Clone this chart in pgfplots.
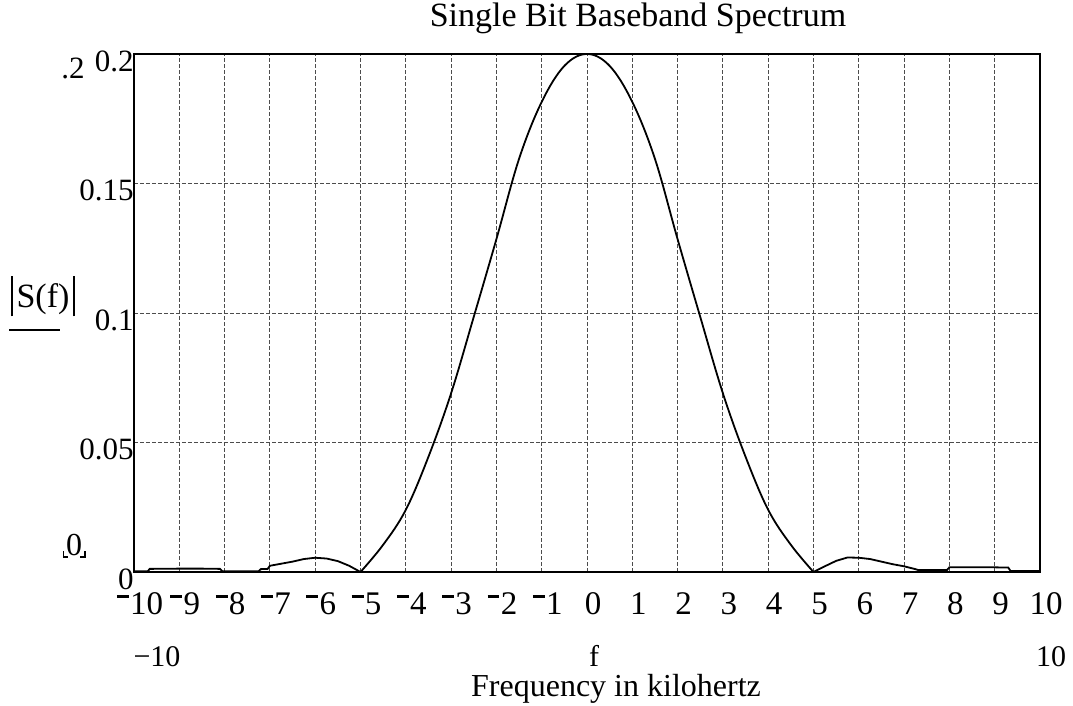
\documentclass[border=0pt]{standalone}
\usepackage{pgfplots}
\pgfplotsset{compat=1.18}
\usepackage{graphicx}
\usepackage{fontspec}
\setmainfont{Liberation Serif}
\newcommand{\nm}{\rule[0.5em]{0.36em}{0.08em}\kern0.04em}
\newcommand{\fs}[1]{\fontsize{#1}{1.2\dimexpr#1\relax}\selectfont}

\begin{document}
\begin{tikzpicture}
\useasboundingbox (0,0) rectangle (536.5pt,353pt);
\begin{axis}[
  at={(67pt,67pt)}, anchor=south west,
  scale only axis, width=453pt, height=259pt,
  xmin=-10, xmax=10, ymin=0, ymax=0.2,
  axis line style={line width=1.3pt},
  xtick={-10,-9,-8,-7,-6,-5,-4,-3,-2,-1,0,1,2,3,4,5,6,7,8,9,10},
  xticklabels={\nm10,\nm9,\nm8,\nm7,\nm6,\nm5,\nm4,\nm3,\nm2,\nm1,0,1,2,3,4,5,6,7,8,9,10},
  ytick={0,0.05,0.1,0.15,0.2},
  yticklabels={0,0.05,0.1,0.15,0.2},
  grid=major,
  grid style={black!70, line width=0.45pt, dash pattern=on 2pt off 1pt},
  major tick length=0pt,
  xticklabel style={font=\fs{16.5pt}, anchor=north, inner sep=0pt, yshift=-10pt, xshift=3pt},
  yticklabel style={font=\fs{15.5pt}, anchor=east, inner sep=0pt, yshift=-3.5pt},
]
% left side lobes
\addplot[black, line width=0.9pt] coordinates {
(-10,0.0003) (-9.7,0.0003) (-9.65,0.0012) (-9,0.0013) (-8.5,0.0013) (-8.1,0.0012)
(-8.05,0.0003) (-7.25,0.0003) (-7.2,0.0011) (-7.05,0.0012) (-7,0.0024)
(-6.75,0.0032) (-6.5,0.0040) (-6.25,0.0050) (-6,0.0055) (-5.75,0.0052)
(-5.5,0.0042) (-5.25,0.0024) (-5,0)
};
% main lobe
\addplot[black, line width=0.9pt, smooth, tension=0.6] coordinates {
(-5,0) (-4.5,0.0105) (-4,0.024) (-3.5,0.0445) (-3,0.069) (-2.5,0.0985)
(-2,0.1285) (-1.5,0.1595) (-1,0.1815) (-0.5,0.1954) (0,0.2)
(0.5,0.1954) (1,0.1815) (1.5,0.1595) (2,0.1285) (2.5,0.0985)
(3,0.069) (3.5,0.0445) (4,0.024) (4.5,0.0105) (5,0)
};
% right side lobes
\addplot[black, line width=0.9pt] coordinates {
(5,0) (5.25,0.0022) (5.5,0.0043) (5.75,0.0056) (6,0.0055) (6.25,0.0050)
(6.5,0.0040) (6.75,0.0030) (7,0.0022) (7.25,0.0011) (7.3,0.0008)
(7.95,0.0008) (8,0.0018) (8.5,0.0018) (9,0.0018) (9.3,0.0017)
(9.35,0.0004) (10,0.0004)
};
\end{axis}
% title
\node[anchor=base, inner sep=0pt] at (319pt,339.5pt) {\fs{17pt}Single Bit Baseband Spectrum};
% extra upper limit
\node[anchor=east, inner sep=0pt] at (42.5pt,319pt) {\fs{15.5pt}.2};
% lower limit placeholder
\node[inner sep=0.6pt] (ph) at (37pt,80.5pt) {\fs{16pt}0};
\draw[line width=0.9pt] ([xshift=-0.5pt,yshift=3pt]ph.south west) -- ([xshift=-0.5pt]ph.south west) -- ([xshift=1.8pt]ph.south west);
\draw[line width=0.9pt] ([xshift=0.5pt,yshift=3pt]ph.south east) -- ([xshift=0.5pt]ph.south east) -- ([xshift=-1.8pt]ph.south east);
% y label
\node[inner sep=0pt] at (21.5pt,205pt) {\fs{17pt}\rule[-0.25em]{0.05em}{1.2em}\kern0.1em S(f)\kern0.1em\rule[-0.25em]{0.05em}{1.2em}};
\draw[line width=0.6pt] (4.5pt,188pt) -- (30pt,188pt);
% x range and labels
\node[anchor=base, inner sep=0pt] at (78.5pt,19.5pt) {\fs{15pt}−10};
\node[anchor=base, inner sep=0pt] at (297pt,19.5pt) {\fs{15pt}f};
\node[anchor=base, inner sep=0pt] at (525.5pt,19.5pt) {\fs{15pt}10};
\node[anchor=base, inner sep=0pt] at (308pt,4.5pt) {\fs{16pt}Frequency in kilohertz};
\end{tikzpicture}
\end{document}
